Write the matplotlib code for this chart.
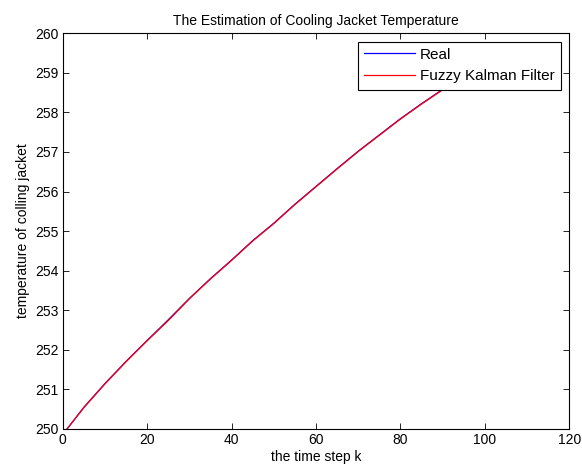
import matplotlib
matplotlib.use('Agg')
import matplotlib.pyplot as plt

# time step k and temperatures
steps = [1, 5, 10, 15, 20, 25, 30, 35, 40, 45, 50,
         55, 60, 65, 70, 75, 80, 85, 90, 95, 100]
real = [250.00, 250.55, 251.15, 251.71, 252.24, 252.76, 253.30, 253.80,
        254.27, 254.76, 255.20, 255.68, 256.13, 256.58, 257.02, 257.43,
        257.84, 258.22, 258.58, 258.95, 259.30]
fuzzy_kf = [250.00, 250.54, 251.14, 251.70, 252.23, 252.74, 253.29, 253.79,
            254.26, 254.75, 255.19, 255.67, 256.12, 256.57, 257.01, 257.42,
            257.83, 258.21, 258.57, 258.94, 259.29]

xticks = [0, 20, 40, 60, 80, 100, 120]
yticks = [250, 251, 252, 253, 254, 255, 256, 257, 258, 259, 260]


def main():
    plt.rcParams['font.family'] = ['Liberation Sans', 'DejaVu Sans']
    plt.rcParams['font.size'] = 10

    fig = plt.figure(figsize=(5.82, 4.75), dpi=100)
    ax = fig.add_axes([0.108, 0.097, 0.870, 0.833])

    ax.plot(steps, real, color='b', linewidth=0.9, label='Real')
    ax.plot(steps, fuzzy_kf, color='r', linewidth=0.9, label='Fuzzy Kalman Filter')

    ax.set_xlim(0, 120)
    ax.set_ylim(250, 260)
    ax.set_xticks(xticks)
    ax.set_yticks(yticks)
    ax.tick_params(direction='in', top=True, right=True, length=4, width=0.6,
                   labelsize=10, pad=3)
    for s in ax.spines.values():
        s.set_linewidth(0.8)

    ax.set_title('The Estimation of Cooling Jacket Temperature', fontsize=10, pad=6)
    ax.set_xlabel('the time step k', fontsize=10, labelpad=2)
    ax.set_ylabel('temperature of colling jacket', fontsize=10, labelpad=4)

    leg = ax.legend(loc='upper right', fontsize=11, fancybox=False, framealpha=1,
                    edgecolor='black', borderaxespad=0.55, handlelength=3.3,
                    borderpad=0.4, labelspacing=0.5, handletextpad=0.35)
    leg.get_frame().set_linewidth(0.8)

    fig.savefig('out.png', dpi=100)


if __name__ == "__main__":
    main()
